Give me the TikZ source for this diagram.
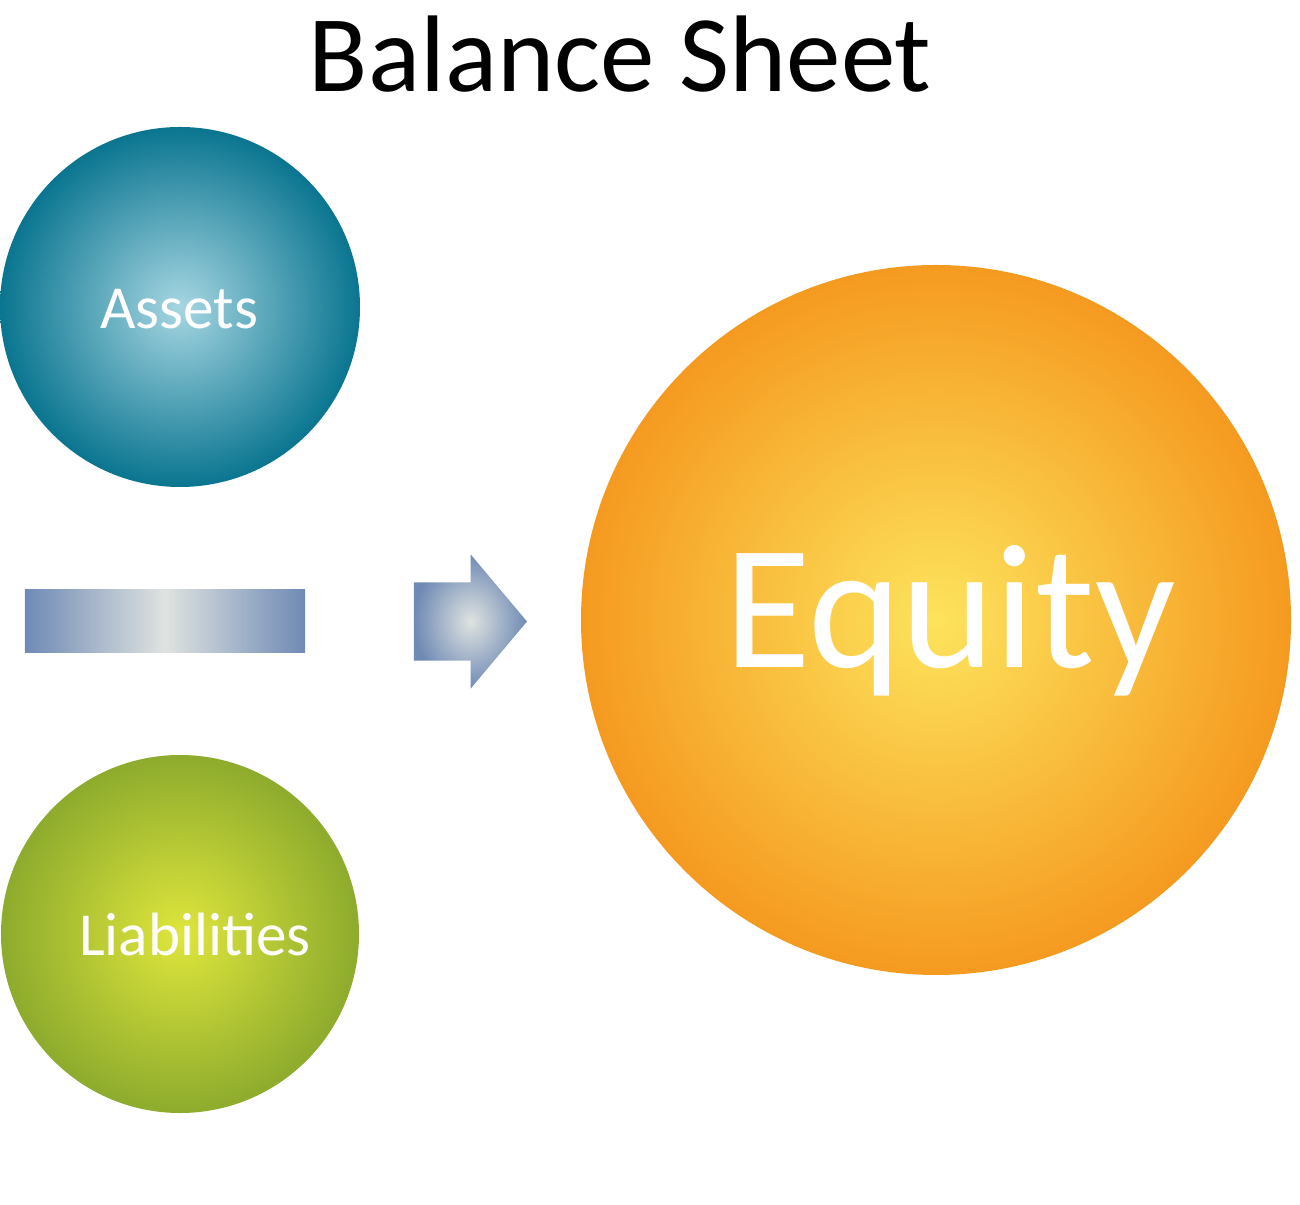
\documentclass[tikz,border=0pt]{standalone}
\usepackage{fontspec}
\setmainfont{Carlito}
\usepackage{tikz}
\usetikzlibrary{positioning, shapes.arrows}
\usepackage{xcolor}
\definecolor{assetin}{HTML}{A6D6E2}
\definecolor{assetout}{HTML}{0A7590}
\definecolor{liabin}{HTML}{DFE63C}
\definecolor{liabout}{HTML}{8DAB2D}
\definecolor{equityin}{HTML}{FDE35C}
\definecolor{equityout}{HTML}{F59A20}
\definecolor{barblue}{HTML}{6F8AB5}
\definecolor{barlight}{HTML}{DFE3E0}

\begin{document}
\begin{tikzpicture}[
  ball/.style={circle, inner sep=0pt, text=white},
  barbox/.style={rectangle, inner sep=0pt, left color=barblue,
                 right color=barblue, middle color=barlight},
  fatarrow/.style={single arrow, inner xsep=0pt, inner ysep=0.385cm,
                   minimum height=1.13cm, minimum width=1.33cm,
                   single arrow head extend=0.28cm, single arrow tip angle=100,
                   shading=radial, inner color=barlight, outer color=barblue},
]
  \useasboundingbox (0,0) rectangle (13,12.04);
  % Title
  \node[anchor=base, font=\fontsize{31}{36}\selectfont] (title) at (6.20,11.12) {Balance Sheet};
  % Assets
  \node[ball, minimum size=3.60cm, shading=radial, inner color=assetin,
        outer color=assetout] (assets) at (1.80,8.97) {};
  \node[anchor=base, text=white, font=\fontsize{17.4}{20}\selectfont]
    (assetstxt) at (1.79,8.75) {Assets};
  % Minus bar
  \node[barbox, minimum width=2.80cm, minimum height=0.63cm] (minus) at (1.65,5.825) {};
  % Arrow
  \node[fatarrow] (arrow) at (4.54,5.825) {};
  % Liabilities
  \node[ball, minimum size=3.58cm, shading=radial, inner color=liabin,
        outer color=liabout] (liab) at (1.80,2.70) {};
  \node[anchor=base, text=white, font=\fontsize{17.4}{20}\selectfont]
    (liabtxt) at (1.95,2.49) {Liabilities};
  % Equity
  \node[ball, minimum size=7.10cm, shading=radial, inner color=equityin,
        outer color=equityout] (equity) at (9.36,5.84) {};
  \node[anchor=base, text=white, font=\fontsize{50.5}{56}\selectfont]
    (equitytxt) at (9.50,5.36) {Equity};
\end{tikzpicture}
\end{document}
